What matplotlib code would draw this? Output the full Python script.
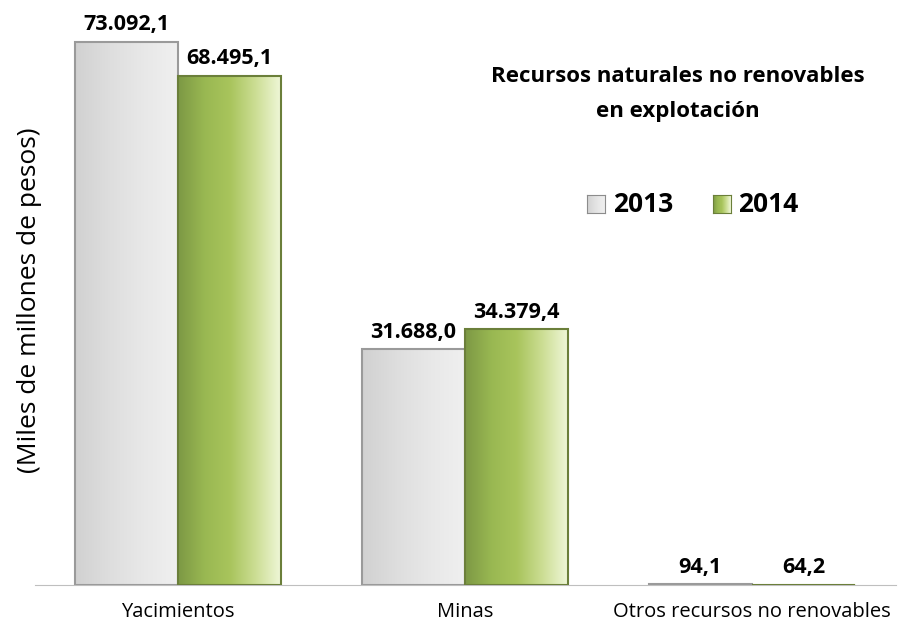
import matplotlib.pyplot as plt
import numpy as np
from matplotlib.patches import Rectangle

plt.rcParams['font.family'] = ['Open Sans', 'DejaVu Sans']

categories = ['Yacimientos', 'Minas', 'Otros recursos no renovables']
years = ['2013', '2014']
v2013 = [73092.1, 31688.0, 94.1]
v2014 = [68495.1, 34379.4, 64.2]


def fmt(v):
    s = f"{v:,.1f}"
    return s.replace(',', 'X').replace('.', ',').replace('X', '.')


# gradients (left -> right)
grad_gray = np.array([[0.82, 0.82, 0.82], [0.87, 0.87, 0.87], [0.91, 0.91, 0.91], [0.94, 0.94, 0.94]])
grad_green = np.array([[0.49, 0.60, 0.27], [0.60, 0.72, 0.32], [0.66, 0.77, 0.36],
                       [0.80, 0.87, 0.58], [0.94, 0.97, 0.85]])


def gradient_img(stops, n=64):
    t = np.linspace(0, 1, n)
    xs = np.linspace(0, 1, len(stops))
    img = np.stack([np.interp(t, xs, stops[:, c]) for c in range(3)], axis=-1)
    return img[np.newaxis, :, :]


fig = plt.figure(figsize=(8.98, 6.29), dpi=100)
ax = fig.add_axes([34.5 / 898, 44 / 629, 861 / 898, 565 / 629])

x = np.arange(len(categories))
w = 0.36
series = [(v2013, grad_gray, '#9a9a9a', -w / 2), (v2014, grad_green, '#6b7f3a', w / 2)]

for vals, grad, edge, off in series:
    img = gradient_img(grad)
    for xi, v in zip(x, vals):
        x0 = xi + off - w / 2
        ax.imshow(img, extent=[x0, x0 + w, 0, v], aspect='auto', zorder=2, interpolation='bilinear')
        ax.add_patch(Rectangle((x0, 0), w, v, fill=False, edgecolor=edge, linewidth=1.5, zorder=3))
        ax.text(xi + off, v + 900, fmt(v), ha='center', va='bottom', fontsize=15.5,
                fontweight='bold', color='black', zorder=4)

ax.set_xlim(-0.5, 2.5)
ax.set_ylim(0, 76000)
ax.set_xticks(x)
ax.set_xticklabels(categories, fontsize=14.5)
ax.tick_params(axis='x', length=0, pad=12)
ax.set_yticks([])
for s in ['top', 'right', 'left']:
    ax.spines[s].set_visible(False)
ax.spines['bottom'].set_color('#bfbfbf')

fig.text(30 / 898, 1 - 300 / 629, '(Miles de millones de pesos)', rotation=90,
         ha='center', va='center', fontsize=19)

fig.text(678 / 898, 1 - 77 / 629, 'Recursos naturales no renovables', ha='center', va='center',
         fontsize=16, fontweight='bold')
fig.text(678 / 898, 1 - 111 / 629, 'en explotación', ha='center', va='center',
         fontsize=16, fontweight='bold')

# legend
for (lx, tx), yr, grad, edge in zip([(587, 613), (713, 738)], years, [grad_gray, grad_green],
                                   ['#8c8c8c', '#6b7f3a']):
    lax = fig.add_axes([lx / 898, 1 - 213 / 629, 18 / 898, 18 / 629])
    lax.imshow(gradient_img(grad), aspect='auto', extent=[0, 1, 0, 1])
    lax.set_xticks([])
    lax.set_yticks([])
    for s in lax.spines.values():
        s.set_color(edge)
    fig.text(tx / 898, 1 - 204 / 629, yr, ha='left', va='center', fontsize=19, fontweight='bold')

fig.savefig('out.png', dpi=100)
